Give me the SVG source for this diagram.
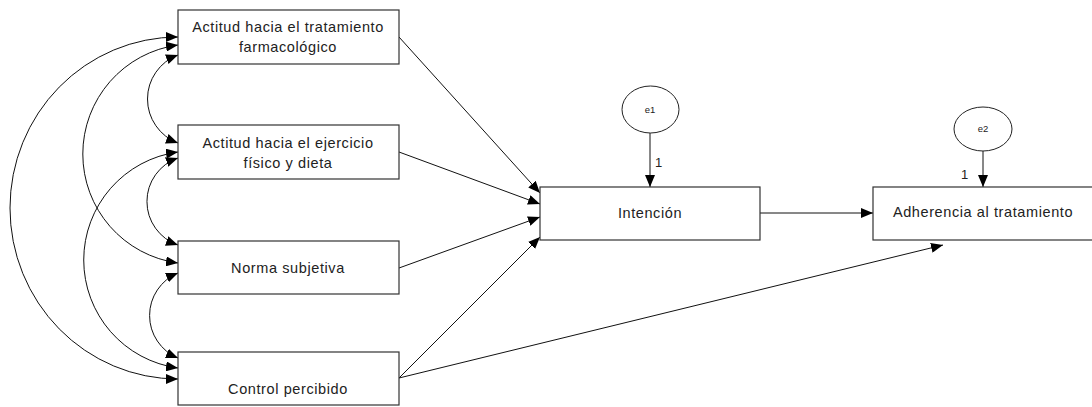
<svg xmlns="http://www.w3.org/2000/svg" width="1092" height="407" viewBox="0 0 1092 407">
<style>
.box{fill:#fff;stroke:#333;stroke-width:1.2}
.ell{fill:#fff;stroke:#222;stroke-width:1}
.t{font-family:"Liberation Sans",Arial,sans-serif;font-size:14.5px;letter-spacing:0.6px;fill:#222;text-anchor:middle}
.s{font-family:"Liberation Sans",Arial,sans-serif;font-size:9.5px;fill:#222;text-anchor:middle}
.n{font-family:"Liberation Sans",Arial,sans-serif;font-size:13px;fill:#222}
.c{fill:none;stroke:#111;stroke-width:1}
.a{marker-end:url(#ah)}
.d{marker-start:url(#ah);marker-end:url(#ah)}
</style>
<defs>
<marker id="ah" markerUnits="userSpaceOnUse" markerWidth="12" markerHeight="10" refX="12" refY="5" orient="auto-start-reverse">
<path d="M0,0 L12,5 L0,10 z" fill="#000"/>
</marker>
</defs>
<rect width="1092" height="407" fill="#fff"/>
<g id="connectors">
<line class="c a" x1="399" y1="37" x2="540" y2="193"/>
<line class="c a" x1="399" y1="152" x2="540" y2="204"/>
<line class="c a" x1="399" y1="268" x2="540" y2="217"/>
<line class="c a" x1="399" y1="378" x2="540" y2="237"/>
<line class="c a" x1="399" y1="378" x2="943" y2="245"/>
<line class="c a" x1="760" y1="213" x2="873" y2="213"/>
<line class="c a" x1="650" y1="133" x2="650" y2="187"/>
<line class="c a" x1="983" y1="151" x2="983" y2="187"/>
<path class="c d" d="M178,55 A47,47 0 0 0 178,143"/>
<path class="c d" d="M178,158 A46,46 0 0 0 178,245"/>
<path class="c d" d="M178,273 A46,46 0 0 0 178,358"/>
<path class="c d" d="M178,45 A110,110 0 0 0 178,263"/>
<path class="c d" d="M178,152 A109,109 0 0 0 178,368"/>
<path class="c d" d="M178,37 A168,171 0 0 0 178,379"/>
</g>
<g id="n1"><rect class="box" x="178" y="10" width="221" height="54"/><text class="t" x="288" y="32">Actitud hacia el tratamiento</text><text class="t" x="288" y="52">farmacológico</text></g>
<g id="n2"><rect class="box" x="178" y="125" width="221" height="54"/><text class="t" x="288" y="148">Actitud hacia el ejercicio</text><text class="t" x="288" y="168">físico y dieta</text></g>
<g id="n3"><rect class="box" x="178" y="241" width="221" height="53"/><text class="t" x="288" y="273">Norma subjetiva</text></g>
<g id="n4"><rect class="box" x="178" y="352" width="221" height="53"/><text class="t" x="288" y="394">Control percibido</text></g>
<g id="n5"><rect class="box" x="540" y="187" width="220" height="53"/><text class="t" x="650" y="218">Intención</text></g>
<g id="n6"><rect class="box" x="873" y="187" width="225" height="53"/><text class="t" x="983" y="217">Adherencia al tratamiento</text></g>
<g id="e1"><ellipse class="ell" cx="650.5" cy="109.5" rx="28.5" ry="23.5"/><text class="s" x="650" y="113">e1</text></g>
<g id="e2"><ellipse class="ell" cx="983" cy="129" rx="29" ry="22"/><text class="s" x="983" y="132">e2</text></g>
<text class="n" x="655" y="167">1</text>
<text class="n" x="961" y="179">1</text>
</svg>
